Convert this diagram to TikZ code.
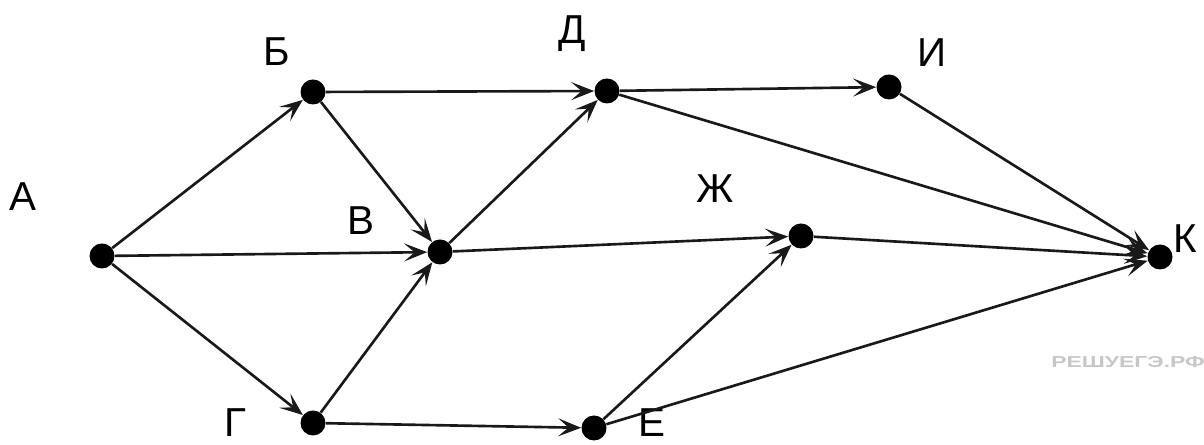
\documentclass[tikz,border=0pt]{standalone}
\usepackage{fontspec}
\setmainfont{Liberation Sans}
\usetikzlibrary{arrows.meta}

\begin{document}
\begin{tikzpicture}[
    dot/.style={circle, fill=black, inner sep=0pt, minimum size=0.5cm},
    arrow/.style={-{Stealth[length=4.6mm, width=3.6mm, inset=2.1mm]}, line width=1.5pt, black!90},
    letter/.style={font=\fontsize{23}{26}\selectfont, inner sep=0pt},
    watermark/.style={font=\fontsize{9}{10}\selectfont\bfseries, text=black!22, inner sep=0pt}
]
\useasboundingbox (0,0) rectangle (24.08,8.90);

% vertices
\node[dot] (A) at (2.04,3.78) {};
\node[dot] (B) at (6.26,7.06) {};
\node[dot] (V) at (8.80,3.86) {};
\node[dot] (G) at (6.26,0.44) {};
\node[dot] (D) at (12.14,7.08) {};
\node[dot] (E) at (11.88,0.34) {};
\node[dot] (Zh) at (16.02,4.18) {};
\node[dot] (I) at (17.78,7.16) {};
\node[dot] (K) at (23.20,3.76) {};

% names
\node[letter] (lA) at (0.46,4.96) {А};
\node[letter] (lB) at (5.54,7.86) {Б};
\node[letter] (lV) at (7.22,4.48) {В};
\node[letter] (lG) at (4.70,0.44) {Г};
\node[letter] (lD) at (11.44,8.22) {Д};
\node[letter] (lE) at (13.04,0.44) {Е};
\node[letter] (lZh) at (14.30,5.12) {Ж};
\node[letter] (lI) at (18.64,7.84) {И};
\node[letter] (lK) at (23.70,4.12) {К};

% edges
\draw[arrow] (A) -- (B);
\draw[arrow] (A) -- (V);
\draw[arrow] (A) -- (G);
\draw[arrow] (B) -- (D);
\draw[arrow] (B) -- (V);
\draw[arrow] (G) -- (V);
\draw[arrow] (G) -- (E);
\draw[arrow] (V) -- (D);
\draw[arrow] (V) -- (Zh);
\draw[arrow] (E) -- (Zh);
\draw[arrow] (D) -- (I);
\draw[arrow] (D) -- (K);
\draw[arrow] (I) -- (K);
\draw[arrow] (Zh) -- (K);
\draw[arrow] (E) -- (K);

\node[watermark] (site) at (22.56,1.66) {\scalebox{1.45}[1]{РЕШУЕГЭ.РФ}};
\end{tikzpicture}
\end{document}
